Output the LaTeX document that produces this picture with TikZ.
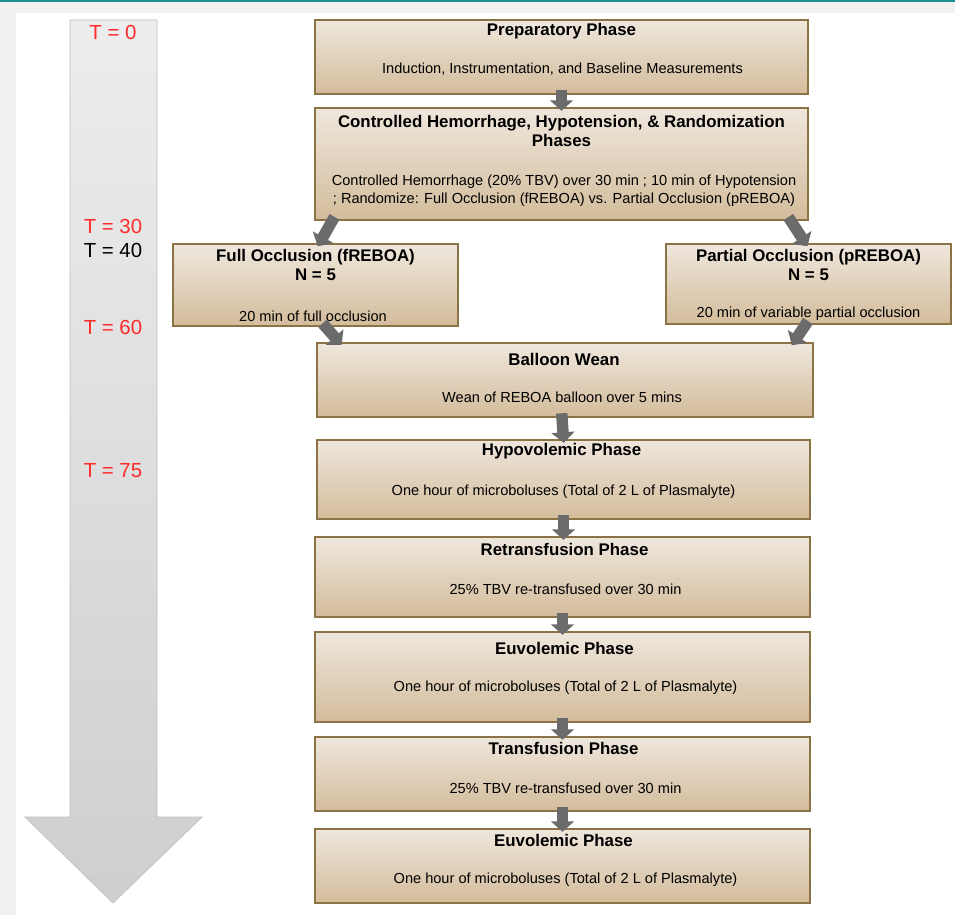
\documentclass[tikz,border=0pt]{standalone}
\usepackage{fontspec}
\setmainfont{Liberation Sans}
\usetikzlibrary{arrows.meta,fit}

\definecolor{boxtop}{HTML}{EFE7DD}
\definecolor{boxbot}{HTML}{D3BC9B}
\definecolor{boxline}{HTML}{8C7346}
\definecolor{blkgray}{HTML}{6B6B6B}
\definecolor{timered}{HTML}{FF2A2A}
\definecolor{framegray}{HTML}{F1F1F1}
\definecolor{frameteal}{HTML}{1B8E8E}

\tikzset{
  phase/.style={draw=boxline,line width=0.8pt,top color=boxtop,bottom color=boxbot,
    inner sep=0pt},
  ttl/.style={font=\fontsize{9.6}{11.3}\selectfont\bfseries,align=center,inner sep=0pt},
  txt/.style={font=\fontsize{8.3}{10.2}\selectfont,align=center,inner sep=0pt},
  blk/.style={draw=blkgray,line width=6.5pt,-{Triangle[length=6pt,width=13pt]},
    shorten <=-2.5pt,shorten >=-2pt},
  tlabel/.style={font=\fontsize{11.6}{13}\selectfont,inner sep=0pt}
}

\begin{document}
\begin{tikzpicture}[x=0.02cm,y=-0.02cm]

        \useasboundingbox (0,0) rectangle (955,915);
        \fill[framegray] (0,0) rectangle (955,915);
        \fill[white] (16,13) rectangle (955,915);
        \fill[frameteal] (0,0) rectangle (955,2);

        % time line
        \path[draw=black!25,top color=black!7,bottom color=black!19]
          (70,20) -- (157,20) -- (157,817) -- (202,817) -- (113,903)
          -- (25,817) -- (70,817) -- cycle;

        \begin{scope}[every node/.style={tlabel,text=timered}]
          \node (t0)  at (113,32)  {T = 0};
          \node (t30) at (113,226) {T = 30};
          \node[text=black] (t40) at (113,250) {T = 40};
          \node (t60) at (113,327) {T = 60};
          \node (t75) at (113,471) {T = 75};
        \end{scope}

        \begin{scope}[every node/.style={phase}]
          \node[fit={(315,20) (808,94)}]   (prep)    {};
          \node[fit={(315,108) (808,220)}] (hem)     {};
          \node[fit={(173,244) (458,326)}] (full)    {};
          \node[fit={(666,244) (951,324)}] (partial) {};
          \node[fit={(317,343) (813,417)}] (wean)    {};
          \node[fit={(317,440) (810,519)}] (hypo)    {};
          \node[fit={(315,537) (810,617)}] (retrans) {};
          \node[fit={(315,632) (810,722)}] (euvo)    {};
          \node[fit={(315,737) (810,811)}] (transf)  {};
          \node[fit={(315,829) (810,903)}] (euvoB)   {};
        \end{scope}

        \node[ttl] (prepT)    at (561.5,31)  {Preparatory Phase};
        \node[txt] (prepB)    at (562.5,69)  {Induction, Instrumentation, and Baseline Measurements};
        \node[ttl] (hemT)     at (561.5,131) {Controlled Hemorrhage, Hypotension, \& Randomization\\Phases};
        \node[txt] (hemB)     at (564,191)   {Controlled Hemorrhage (20\% TBV) over 30 min ; 10 min of Hypotension\\; Randomize: Full Occlusion (fREBOA) vs. Partial Occlusion (pREBOA)};
        \node[ttl] (fullT)    at (315.5,265) {Full Occlusion (fREBOA)\\N = 5};
        \node[txt] (fullB)    at (313,316)   {20 min of full occlusion};
        \node[ttl] (partialT) at (808.5,265) {Partial Occlusion (pREBOA)\\N = 5};
        \node[txt] (partialB) at (808.5,314) {20 min of variable partial occlusion};
        \node[ttl] (weanT)    at (564,359)   {Balloon Wean};
        \node[txt] (weanB)    at (562,397)   {Wean of REBOA balloon over 5 mins};
        \node[ttl] (hypoT)    at (561.5,451) {Hypovolemic Phase};
        \node[txt] (hypoB)    at (563.5,492) {One hour of microboluses (Total of 2 L of Plasmalyte)};
        \node[ttl] (retransT) at (564.5,549) {Retransfusion Phase};
        \node[txt] (retransB) at (565.5,589) {25\% TBV re-transfused over 30 min};
        \node[ttl] (euvoT)    at (564.5,648) {Euvolemic Phase};
        \node[txt] (euvoB1)   at (565.5,688) {One hour of microboluses (Total of 2 L of Plasmalyte)};
        \node[ttl] (transfT)  at (563.5,748) {Transfusion Phase};
        \node[txt] (transfB)  at (565.5,788) {25\% TBV re-transfused over 30 min};
        \node[ttl] (euvoBT)   at (563.5,840) {Euvolemic Phase};
        \node[txt] (euvoBB)   at (565.5,880) {One hour of microboluses (Total of 2 L of Plasmalyte)};

        \begin{scope}[every path/.style={blk}]
          \path (prep)    edge (hem);
          \draw ([xshift=0.36cm]hem.south west) -- ([xshift=0.08cm]full.north);
          \draw ([xshift=-0.36cm]hem.south east) -- ([xshift=-0.06cm]partial.north);
          \draw ([xshift=0.2cm]full.south) -- ([xshift=0.46cm]wean.north west);
          \draw ([xshift=-0.06cm]partial.south) -- ([xshift=-0.4cm]wean.north east);
          \draw ([xshift=-0.06cm]wean.south) -- (hypo.north);
          \draw (hypo.south) -- (hypo.south |- retrans.north);
          \draw (retrans.south) -- (euvo.north);
          \draw (euvo.south) -- (transf.north);
          \draw (transf.south) -- (euvoB.north);
        \end{scope}

      \end{tikzpicture}
\end{document}
